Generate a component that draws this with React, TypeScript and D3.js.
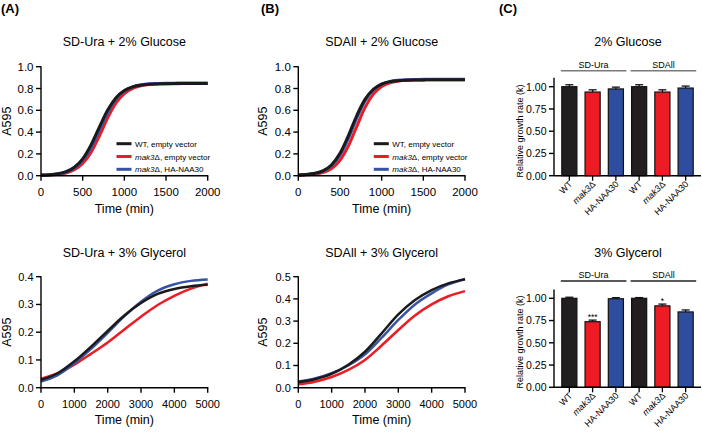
import React from "react";
import * as d3 from "d3";

const FONT = "'Liberation Sans', Arial, Helvetica, sans-serif";

// ---- growth curve data ----
const glucoseTime = [0, 100, 200, 300, 400, 500, 600, 700, 800, 900, 1000, 1100, 1200, 1300, 1400, 1500, 1600, 1700, 1800, 1900, 2000];
const uraGlucoseWT = [0.006, 0.009, 0.018, 0.037, 0.078, 0.155, 0.283, 0.446, 0.602, 0.716, 0.781, 0.815, 0.831, 0.839, 0.842, 0.844, 0.845, 0.845, 0.845, 0.845, 0.845];
const uraGlucoseMak3 = [0.005, 0.007, 0.012, 0.025, 0.054, 0.112, 0.214, 0.364, 0.53, 0.667, 0.754, 0.802, 0.825, 0.836, 0.841, 0.843, 0.844, 0.845, 0.845, 0.845, 0.845];
const uraGlucoseHA = [0.005, 0.007, 0.015, 0.032, 0.068, 0.138, 0.256, 0.417, 0.579, 0.702, 0.777, 0.815, 0.834, 0.843, 0.846, 0.848, 0.849, 0.85, 0.85, 0.85, 0.85];

const allGlucoseWT = [0.007, 0.011, 0.022, 0.047, 0.101, 0.205, 0.366, 0.55, 0.7, 0.793, 0.841, 0.863, 0.872, 0.876, 0.878, 0.879, 0.88, 0.88, 0.88, 0.88, 0.88];
const allGlucoseMak3 = [0.005, 0.008, 0.015, 0.031, 0.066, 0.141, 0.271, 0.449, 0.624, 0.748, 0.819, 0.853, 0.868, 0.875, 0.878, 0.879, 0.88, 0.88, 0.88, 0.88, 0.88];
const allGlucoseHA = [0.006, 0.01, 0.02, 0.042, 0.091, 0.187, 0.34, 0.526, 0.685, 0.787, 0.84, 0.865, 0.876, 0.881, 0.883, 0.884, 0.885, 0.885, 0.885, 0.885, 0.885];

const glycerolTime = [0, 500, 1000, 1500, 2000, 2500, 3000, 3500, 4000, 4500, 5000];
const uraGlycerolWT = [0.028, 0.052, 0.095, 0.148, 0.205, 0.26, 0.305, 0.338, 0.356, 0.366, 0.371];
const uraGlycerolMak3 = [0.032, 0.052, 0.083, 0.122, 0.163, 0.21, 0.256, 0.298, 0.331, 0.357, 0.375];
const uraGlycerolHA = [0.022, 0.045, 0.088, 0.14, 0.198, 0.258, 0.31, 0.35, 0.373, 0.385, 0.39];

const allGlycerolWT = [0.025, 0.038, 0.062, 0.103, 0.162, 0.245, 0.33, 0.395, 0.44, 0.47, 0.488];
const allGlycerolMak3 = [0.015, 0.027, 0.048, 0.08, 0.125, 0.19, 0.26, 0.325, 0.375, 0.412, 0.435];
const allGlycerolHA = [0.028, 0.042, 0.066, 0.1, 0.15, 0.225, 0.305, 0.375, 0.425, 0.465, 0.49];

const legendLabels = [
  { pre: "WT, empty vector", italic: "", post: "" },
  { pre: "", italic: "mak3", post: "Δ, empty vector" },
  { pre: "", italic: "mak3", post: "Δ, HA-NAA30" },
];

// ---- bar data ----
const barCategories = ["WT", "mak3Δ", "HA-NAA30", "WT", "mak3Δ", "HA-NAA30"];
const barGroups = ["SD-Ura", "SDAll"];
const glucoseRates = [1.0, 0.94, 0.975, 1.0, 0.94, 0.985];
const glucoseErr = [0.022, 0.025, 0.02, 0.022, 0.025, 0.022];
const glycerolRates = [1.0, 0.737, 0.995, 1.0, 0.915, 0.847];
const glycerolErr = [0.012, 0.018, 0.012, 0.008, 0.02, 0.022];
const glycerolStars = ["", "***", "", "", "*", ""];
const barTicks = [0, 0.25, 0.5, 0.75, 1.0];

const BLACK = "#1a1a1a";
const RED = "#ed1c24";
const BLUE = "#3953a4";
const seriesColors = [BLACK, RED, BLUE];
const barColors = ["#231f20", "#ed1c24", "#2e4d9e"];

type LineProps = {
  left: number; right: number; top: number; bottom: number;
  xMax: number; xTicks: number; yMax: number; yTicks: number;
  title: string; titleY: number; xLabelY: number; yLabelX: number;
  time: number[]; series: number[][]; legend?: boolean; tickFont: number; lw: number;
};

function LinePanel(p: LineProps) {
  const x = d3.scaleLinear().domain([0, p.xMax]).range([p.left, p.right]);
  const y = d3.scaleLinear().domain([0, p.yMax]).range([p.bottom, p.top]);
  const line = d3.line<number>()
    .x((_, i) => x(p.time[i]))
    .y((d) => y(d))
    .curve(d3.curveMonotoneX);
  const order = [1, 2, 0];
  const cx = (p.left + p.right) / 2;
  const cy = (p.top + p.bottom) / 2;
  return (
    <g fontFamily={FONT}>
      <text x={cx} y={p.titleY} textAnchor="middle" fontSize={12.5}>{p.title}</text>
      {order.map((k) => (
        <path key={k} d={line(p.series[k]) || ""} fill="none" stroke={seriesColors[k]} strokeWidth={p.lw} />
      ))}
      <line x1={p.left} x2={p.left} y1={p.top - 0.5} y2={p.bottom} stroke="#000" strokeWidth={1.4} />
      <line x1={p.left} x2={p.right + 0.6} y1={p.bottom} y2={p.bottom} stroke="#000" strokeWidth={1.4} />
      {y.ticks(p.yTicks).map((t) => (
        <g key={"y" + t}>
          <line x1={p.left - 5} x2={p.left} y1={y(t)} y2={y(t)} stroke="#000" strokeWidth={1.4} />
          <text x={p.left - 7.5} y={y(t) + p.tickFont * 0.36} textAnchor="end" fontSize={p.tickFont}>{d3.format(".1f")(t)}</text>
        </g>
      ))}
      {x.ticks(p.xTicks).map((t) => (
        <g key={"x" + t}>
          <line x1={x(t)} x2={x(t)} y1={p.bottom} y2={p.bottom + 5} stroke="#000" strokeWidth={1.4} />
          <text x={x(t)} y={p.bottom + 20} textAnchor="middle" fontSize={p.tickFont}>{t}</text>
        </g>
      ))}
      <text x={cx} y={p.xLabelY} textAnchor="middle" fontSize={12.5}>Time (min)</text>
      <text transform={`translate(${p.yLabelX},${cy}) rotate(-90)`} textAnchor="middle" fontSize={12.5}>A595</text>
      {p.legend && legendLabels.map((l, i) => {
        const ly = p.top + 77 + i * 12.8;
        return (
          <g key={"lg" + i}>
            <line x1={p.left + 75.5} x2={p.left + 90.5} y1={ly} y2={ly} stroke={seriesColors[i]} strokeWidth={3} />
            <text x={p.left + 94} y={ly + 3} fontSize={8}>
              {l.pre}
              {l.italic && <tspan fontStyle="italic">{l.italic}</tspan>}
              {l.post}
            </text>
          </g>
        );
      })}
    </g>
  );
}

type BarProps = {
  bottom: number; unit: number; title: string; titleY: number; groupY: number; groupColor: string;
  values: number[]; errs: number[]; stars?: string[]; yLabelY: number;
};

function CatLabel({ label }: { label: string }) {
  if (label.startsWith("mak3")) {
    return (<><tspan fontStyle="italic">mak3</tspan>Δ</>);
  }
  return <>{label}</>;
}

function BarPanel(p: BarProps) {
  const left = 554;
  const right = 701;
  const y = d3.scaleLinear().domain([0, 1.1]).range([p.bottom, p.bottom - 1.1 * p.unit]);
  const x = d3.scaleBand<number>().domain(d3.range(barCategories.length)).range([left, right]).paddingInner(0.35).paddingOuter(0.335);
  const bw = x.bandwidth();
  const top = y(1.1);
  return (
    <g fontFamily={FONT}>
      <text x={628} y={p.titleY} textAnchor="middle" fontSize={12.5}>{p.title}</text>
      {barGroups.map((g, gi) => {
        const x1 = (x(gi * 3) as number) - 1;
        const x2 = (x(gi * 3 + 2) as number) + bw + 3;
        return (
          <g key={g}>
            <line x1={x1} x2={x2} y1={p.groupY} y2={p.groupY} stroke={p.groupColor} strokeWidth={1.6} />
            <text x={(x1 + x2) / 2} y={p.groupY - 3} textAnchor="middle" fontSize={9}>{g}</text>
          </g>
        );
      })}
      {p.values.map((v, i) => {
        const bx = x(i) as number;
        const c = bx + bw / 2;
        const et = y(v + p.errs[i]);
        return (
          <g key={i}>
            <rect x={bx} y={y(v)} width={bw} height={p.bottom - y(v)} fill={barColors[i % 3]} stroke="#111" strokeWidth={1.2} />
            <line x1={c} x2={c} y1={y(v)} y2={et} stroke="#111" strokeWidth={1.3} />
            <line x1={c - 4} x2={c + 4} y1={et} y2={et} stroke="#111" strokeWidth={1.3} />
            {p.stars && p.stars[i] && (
              <text x={c} y={et - 0.5} textAnchor="middle" fontSize={8.5}>{p.stars[i]}</text>
            )}
            <line x1={c} x2={c} y1={p.bottom} y2={p.bottom + 5} stroke="#000" strokeWidth={1.3} />
            <text transform={`translate(${c + 3.5},${p.bottom + 9}) rotate(-45)`} textAnchor="end" fontSize={9}>
              <CatLabel label={barCategories[i]} />
            </text>
          </g>
        );
      })}
      <line x1={left} x2={left} y1={top} y2={p.bottom} stroke="#000" strokeWidth={1.4} />
      <line x1={left} x2={right} y1={p.bottom} y2={p.bottom} stroke="#000" strokeWidth={1.4} />
      {barTicks.map((t) => (
        <g key={t}>
          <line x1={left - 5} x2={left} y1={y(t)} y2={y(t)} stroke="#000" strokeWidth={1.4} />
          <text x={left - 7.5} y={y(t) + 3.8} textAnchor="end" fontSize={10.5}>{d3.format(".2f")(t)}</text>
        </g>
      ))}
      <text transform={`translate(523,${p.yLabelY}) rotate(-90)`} textAnchor="middle" fontSize={9}>Relative growth rate (k)</text>
    </g>
  );
}

export default function App() {
  return (
    <svg width={702} height={435} viewBox="0 0 702 435"
      style={{ position: "absolute", left: 0, top: 0, display: "block", background: "#fff" }}>
      <rect x={0} y={0} width={702} height={435} fill="#fff" />
      <g fontFamily={FONT} fontWeight="bold" fontSize={13}>
        <text x={1} y={12.5}>(A)</text>
        <text x={261} y={12.5}>(B)</text>
        <text x={499} y={12.5}>(C)</text>
      </g>
      <LinePanel left={41} right={207.7} top={66.7} bottom={175.7} xMax={2000} xTicks={4} yMax={1.0} yTicks={5}
        title="SD-Ura + 2% Glucose" titleY={45.5} xLabelY={213} yLabelX={10.5}
        time={glucoseTime} series={[uraGlucoseWT, uraGlucoseMak3, uraGlucoseHA]} legend tickFont={11.5} lw={3} />
      <LinePanel left={298.3} right={465} top={66.7} bottom={175.7} xMax={2000} xTicks={4} yMax={1.0} yTicks={5}
        title="SDAll + 2% Glucose" titleY={45.5} xLabelY={213} yLabelX={267}
        time={glucoseTime} series={[allGlucoseWT, allGlucoseMak3, allGlucoseHA]} legend tickFont={11.5} lw={3} />
      <LinePanel left={41} right={207.7} top={276.7} bottom={387.7} xMax={5000} xTicks={5} yMax={0.4} yTicks={4}
        title="SD-Ura + 3% Glycerol" titleY={257} xLabelY={424} yLabelX={10.5}
        time={glycerolTime} series={[uraGlycerolWT, uraGlycerolMak3, uraGlycerolHA]} tickFont={11} lw={2.5} />
      <LinePanel left={298.3} right={465} top={276.7} bottom={387.7} xMax={5000} xTicks={5} yMax={0.5} yTicks={5}
        title="SDAll + 3% Glycerol" titleY={257} xLabelY={424} yLabelX={267}
        time={glycerolTime} series={[allGlycerolWT, allGlycerolMak3, allGlycerolHA]} tickFont={11} lw={2.5} />
      <BarPanel bottom={175.7} unit={89} title="2% Glucose" titleY={45.5} groupY={70.7} groupColor="#7a7a7a"
        values={glucoseRates} errs={glucoseErr} yLabelY={131} />
      <BarPanel bottom={387.3} unit={89} title="3% Glycerol" titleY={257} groupY={281} groupColor="#222"
        values={glycerolRates} errs={glycerolErr} stars={glycerolStars} yLabelY={342} />
    </svg>
  );
}
